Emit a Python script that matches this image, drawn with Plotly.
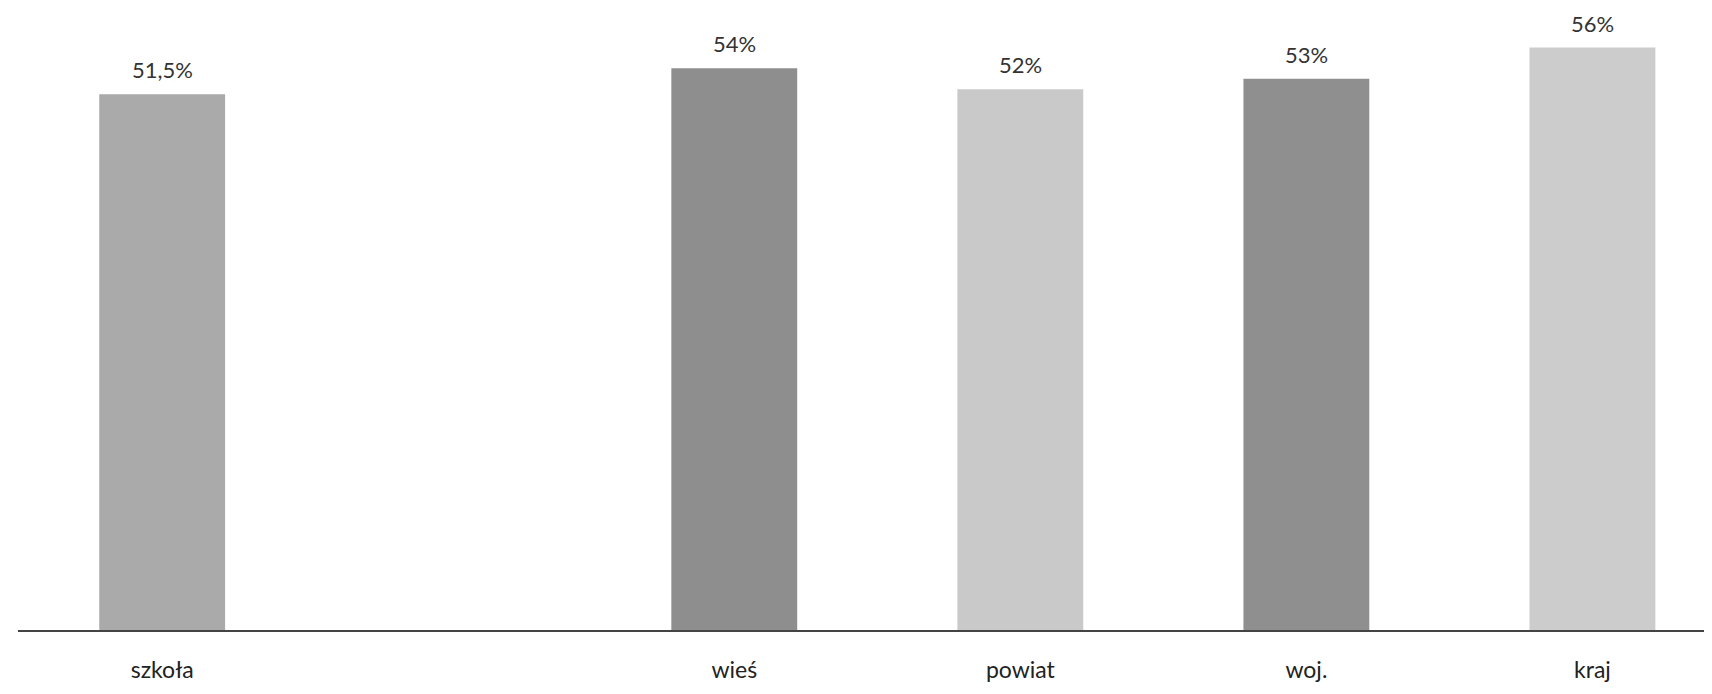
import plotly.graph_objects as go

categories = ["szkoła", " ", "wieś", "powiat", "woj.", "kraj"]
values = [51.5, None, 54, 52, 53, 56]
value_labels = ["51,5%", "", "54%", "52%", "53%", "56%"]

bar_colors = ["#aaaaaa", "#ffffff", "#8e8e8e", "#c9c9c9", "#8f8f8f", "#cccccc"]

fig = go.Figure()
fig.add_trace(go.Bar(
    x=categories, y=values,
    marker=dict(color=bar_colors, line=dict(width=0)),
    width=0.44,
    hoverinfo="skip",
))

for c, v, t in zip(categories, values, value_labels):
    if v is None:
        continue
    fig.add_annotation(x=c, y=v, text=t, showarrow=False, yanchor="bottom",
                       yshift=9, font=dict(size=22, color="#333333", family="Lato"))

fig.update_layout(
    width=1712, height=694,
    margin=dict(l=10, r=0, t=0, b=72),
    paper_bgcolor="white", plot_bgcolor="white",
    showlegend=False,
    font=dict(family="Lato", size=23, color="#222222"),
    xaxis=dict(
        type="category", categoryorder="array", categoryarray=categories,
        range=[-0.504, 5.446],
        showline=True, linecolor="#444444", linewidth=2,
        showgrid=False, zeroline=False, ticks="",
        ticklabelstandoff=18,
        tickfont=dict(size=23, color="#222222", family="Lato"),
    ),
    yaxis=dict(range=[0, 59.8], visible=False, showgrid=False, zeroline=False),
)

fig.write_html("out.html")
